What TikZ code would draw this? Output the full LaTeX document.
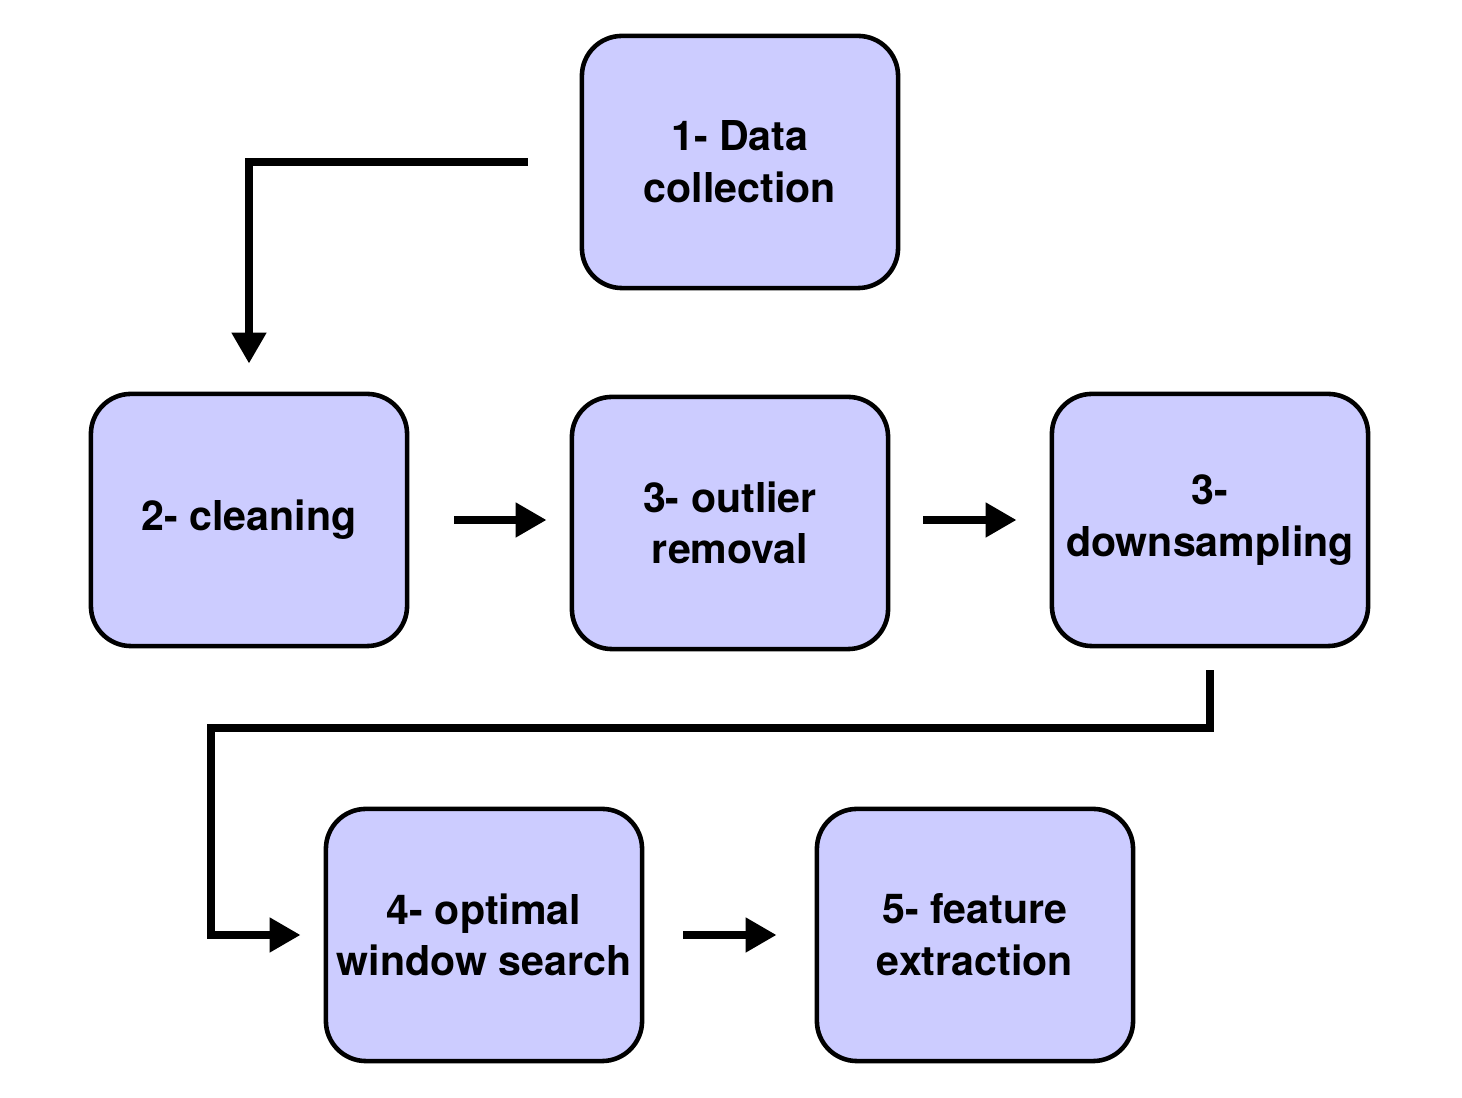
\documentclass[tikz,border=0pt]{standalone}
\usepackage{fontspec}
\setmainfont{TeX Gyre Heros}
\usetikzlibrary{arrows.meta}
\definecolor{boxfill}{HTML}{CCCCFF}
\begin{document}
\begin{tikzpicture}[x=0.01cm,y=-0.01cm,
		stage/.style={draw,line width=1.3pt,fill=boxfill,rounded corners=0.4cm,
			minimum width=3.16cm,minimum height=2.52cm,inner sep=0pt,align=center,
			font=\fontsize{11.7}{14.7}\selectfont\bfseries},
		flow/.style={line width=2.3pt,line join=miter,-{Triangle[width=0.33cm,length=0.31cm]}}]
		\useasboundingbox (0,0) rectangle (1462,1098);
		\node[stage] (collect) at (740,162) {1- Data\\collection};
		\node[stage] (clean) at (249,520) {2- cleaning};
		\node[stage] (outlier) at (730,523) {3- outlier\\removal};
		\node[stage] (down) at (1210,520) {3-\\downsampling};
		\node[stage] (window) at (484,935) {4- optimal\\window search};
		\node[stage] (feature) at (975,935) {5- feature\\extraction};
		\coordinate (turn) at (211,728);
		\draw[flow,shorten <=0.52cm,shorten >=0.28cm] (collect.west) -| (clean.north);
		\draw[flow,shorten <=0.45cm,shorten >=0.23cm] (clean.east) -- (clean.east -| outlier.west);
		\draw[flow,shorten <=0.33cm,shorten >=0.33cm] (clean.east -| outlier.east) -- (clean.east -| down.west);
		\draw[flow,shorten <=0.22cm,shorten >=0.23cm] (down.south) |- (turn) |- (window.west);
		\draw[flow,shorten <=0.39cm,shorten >=0.38cm] (window.east) -- (feature.west);
	\end{tikzpicture}
\end{document}
